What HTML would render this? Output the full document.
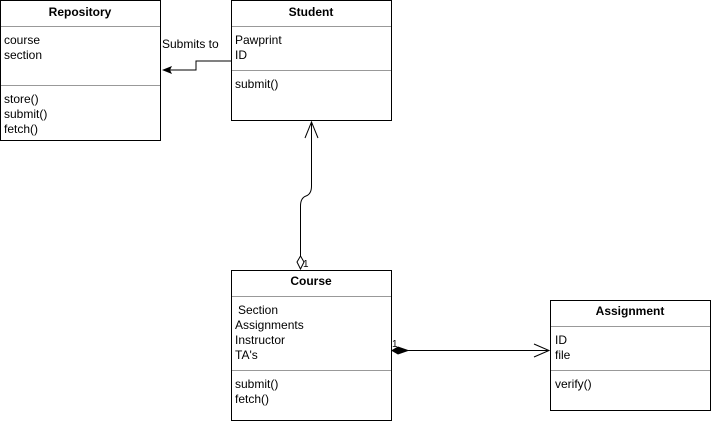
<!DOCTYPE html>
<html><head><style>body{margin:0;background:#fff}svg{display:block}text{font-family:"Liberation Sans",Arial,sans-serif;font-size:12px;fill:#000}.b{font-weight:bold}</style></head><body>
<svg width="712" height="424" viewBox="0 0 712 424">
<g fill="#fff" stroke="#000" stroke-width="1">
<rect x="0.5" y="0.5" width="160" height="140"/>
<rect x="231.5" y="0.5" width="160" height="120"/>
<rect x="231.5" y="270.5" width="160" height="150"/>
<rect x="550.5" y="300.5" width="160" height="110"/>
</g>
<g stroke="#999" stroke-width="1">
<line x1="1" y1="26.5" x2="160" y2="26.5"/><line x1="1" y1="85.5" x2="160" y2="85.5"/>
<line x1="232" y1="26.5" x2="391" y2="26.5"/><line x1="232" y1="70.5" x2="391" y2="70.5"/>
<line x1="232" y1="296.5" x2="391" y2="296.5"/><line x1="232" y1="370.5" x2="391" y2="370.5"/>
<line x1="551" y1="326.5" x2="710" y2="326.5"/><line x1="551" y1="370.5" x2="710" y2="370.5"/>
</g>
<text x="80" y="16" text-anchor="middle" class="b">Repository</text>
<text x="4" y="44">course</text><text x="4" y="59">section</text>
<text x="4" y="103">store()</text><text x="4" y="118">submit()</text><text x="4" y="133">fetch()</text>
<text x="311" y="16" text-anchor="middle" class="b">Student</text>
<text x="235" y="44">Pawprint</text><text x="235" y="59">ID</text>
<text x="235" y="88">submit()</text>
<text x="311" y="285" text-anchor="middle" class="b">Course</text>
<text x="238" y="314">Section</text><text x="235" y="329">Assignments</text><text x="235" y="344">Instructor</text><text x="235" y="359">TA's</text>
<text x="235" y="388">submit()</text><text x="235" y="403">fetch()</text>
<text x="630" y="315" text-anchor="middle" class="b">Assignment</text>
<text x="555" y="344">ID</text><text x="555" y="359">file</text>
<text x="555" y="388">verify()</text>
<text x="162" y="48">Submits to</text>
<text x="303" y="267" style="font-size:10px">1</text>
<text x="392" y="347" style="font-size:10px">1</text>
<g fill="none" stroke="#000" stroke-width="1">
<polyline points="231,61 196,61 196,70 163,70"/>
<path d="M300.5,256 V206 Q300.5,198 306,196 Q311.5,194 311.5,186 V122"/>
<polyline points="305,138 311.5,122 318,138"/>
<path d="M300.5,256 L297,262 L300.5,269 L304,262 Z" fill="#fff"/>
<line x1="408" y1="350.5" x2="549" y2="350.5"/>
<polyline points="534,344 549,350.5 534,357"/>
</g>
<polygon points="162,70 172,66 170,70 172,74" fill="#000"/>
<polygon points="392,350.5 398,347 408,350.5 398,354" fill="#000" stroke="#000"/>
</svg>
</body></html>
